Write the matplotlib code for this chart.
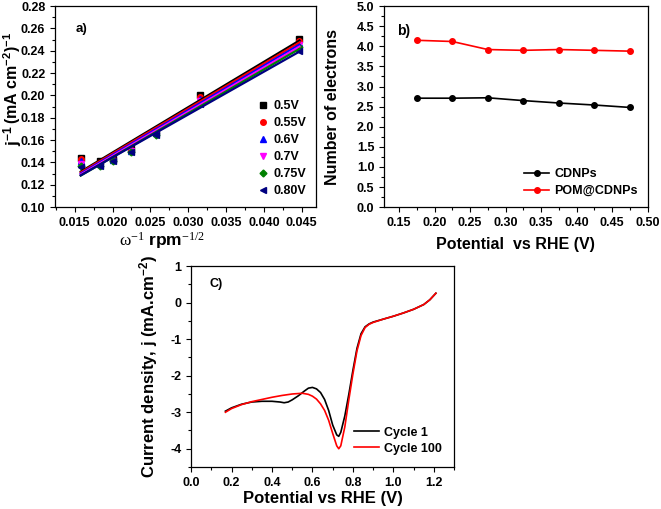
import numpy as np
import matplotlib
matplotlib.use("Agg")
import matplotlib.pyplot as plt
from matplotlib.ticker import MultipleLocator

plt.rcParams['font.family'] = ['Liberation Sans', 'DejaVu Sans']
plt.rcParams['font.weight'] = 'bold'
plt.rcParams['mathtext.fontset'] = 'custom'
plt.rcParams['mathtext.rm'] = 'Liberation Sans:bold'
plt.rcParams['mathtext.it'] = 'Liberation Sans:bold'
plt.rcParams['mathtext.bf'] = 'Liberation Sans:bold'

# ---- Panel a data ----
omega_inv = [0.0158, 0.0183, 0.0200, 0.0224, 0.0258, 0.0316, 0.0447]
a_labels = ['0.5V', '0.55V', '0.6V', '0.7V', '0.75V', '0.80V']
j_05 = [0.144, 0.141, 0.143, 0.152, 0.168, 0.200, 0.251]
j_055 = [0.143, 0.140, 0.142, 0.151, 0.167, 0.199, 0.249]
j_06 = [0.141, 0.139, 0.142, 0.150, 0.166, 0.197, 0.247]
j_07 = [0.139, 0.138, 0.141, 0.150, 0.166, 0.195, 0.245]
j_075 = [0.137, 0.137, 0.141, 0.149, 0.165, 0.193, 0.243]
j_080 = [0.136, 0.137, 0.141, 0.149, 0.165, 0.192, 0.240]

# ---- Panel b data ----
potential_b = [0.175, 0.225, 0.275, 0.325, 0.375, 0.425, 0.475]
n_cdnps = [2.71, 2.71, 2.72, 2.65, 2.59, 2.54, 2.48]
n_pom = [4.15, 4.12, 3.92, 3.90, 3.92, 3.90, 3.88]

# ---- Panel c data ----
E_c1 = [0.17, 0.20, 0.25, 0.30, 0.35, 0.40, 0.44, 0.46, 0.48, 0.50, 0.53, 0.56, 0.58, 0.60,
        0.62, 0.64, 0.66, 0.68, 0.70, 0.72, 0.73, 0.74, 0.76, 0.78, 0.80, 0.82, 0.84, 0.86,
        0.88, 0.90, 0.95, 1.00, 1.05, 1.10, 1.15, 1.18, 1.21]
j_c1 = [-2.97, -2.88, -2.78, -2.72, -2.70, -2.70, -2.72, -2.74, -2.72, -2.66, -2.55, -2.42, -2.34, -2.32,
        -2.36, -2.46, -2.65, -2.95, -3.35, -3.62, -3.66, -3.55, -3.10, -2.50, -1.85, -1.25, -0.85, -0.66,
        -0.58, -0.53, -0.45, -0.37, -0.28, -0.18, -0.05, 0.08, 0.26]
E_c100 = [0.17, 0.20, 0.25, 0.30, 0.35, 0.40, 0.45, 0.50, 0.55, 0.58, 0.60, 0.62, 0.64, 0.66,
          0.68, 0.70, 0.72, 0.73, 0.74, 0.76, 0.78, 0.80, 0.82, 0.84, 0.86, 0.88, 0.90, 0.95,
          1.00, 1.05, 1.10, 1.15, 1.18, 1.21]
j_c100 = [-3.00, -2.90, -2.79, -2.71, -2.65, -2.59, -2.54, -2.50, -2.48, -2.51, -2.56, -2.64, -2.77, -2.95,
          -3.22, -3.58, -3.92, -4.00, -3.92, -3.40, -2.65, -1.95, -1.32, -0.90, -0.68, -0.59, -0.54, -0.45,
          -0.37, -0.28, -0.18, -0.05, 0.08, 0.26]

fig = plt.figure(figsize=(6.61, 5.09), dpi=100)
TICK = 9


def style(ax):
    ax.tick_params(which='both', direction='out', labelsize=TICK, width=0.8)
    ax.tick_params(which='major', length=3.5)
    ax.tick_params(which='minor', length=2)
    for s in ax.spines.values():
        s.set_linewidth(0.9)
    for lab in ax.get_xticklabels() + ax.get_yticklabels():
        lab.set_fontweight('bold')


# Panel a
axa = fig.add_axes([0.0832, 0.593, 0.395, 0.395])
colors = ['black', 'red', 'blue', 'magenta', 'green', 'navy']
markers = ['s', 'o', '^', 'v', 'D', '<']
msizes = [4, 4, 4, 4, 3.5, 4]
series = [j_05, j_055, j_06, j_07, j_075, j_080]
x = np.array(omega_inv)
for ys, c, m, ms, lab in zip(series, colors, markers, msizes, a_labels):
    axa.plot(x, ys, linestyle='none', marker=m, color=c, ms=ms, label=lab)
for ys, c in zip(series, colors):
    p = np.polyfit(x, ys, 1)
    axa.plot([x[0], x[-1]], np.polyval(p, [x[0], x[-1]]), color=c, lw=1.6)
axa.set_xlim(0.0124, 0.0469)
axa.set_ylim(0.10, 0.28)
axa.xaxis.set_minor_locator(MultipleLocator(0.0025))
axa.yaxis.set_minor_locator(MultipleLocator(0.01))
axa.set_xticks([0.015, 0.02, 0.025, 0.03, 0.035, 0.04, 0.045])
axa.set_xticklabels(['0.015', '0.020', '0.025', '0.030', '0.035', '0.040', '0.045'])
axa.set_yticks(np.round(np.arange(0.10, 0.281, 0.02), 2))
axa.set_yticklabels(['%.2f' % v for v in np.arange(0.10, 0.281, 0.02)])
style(axa)
axa.set_xlabel(r'$\mathregular{\omega^{-1}}$ $\mathbf{rpm}$$\mathregular{^{-1/2}}$', fontsize=12.5,
               family='Liberation Serif', fontweight='normal')
axa.xaxis.set_label_coords(0.41, -0.115)

# y label of panel a: large "j^-1" followed by "(mA cm^-2)^-1" on the same baseline
ylab1 = fig.text(18 / 661, 1 - 146 / 509, r'j$^{-1}$', rotation=90, rotation_mode='anchor',
                 ha='left', va='baseline', fontsize=12.5, fontweight='bold')
fig.canvas.draw()
bb = ylab1.get_window_extent(renderer=fig.canvas.get_renderer())
y_next = fig.transFigure.inverted().transform((0, bb.y1))[1]
fig.text(18 / 661, y_next + 0.002, r'(mA cm$^{-2}$)$^{-1}$', rotation=90, rotation_mode='anchor',
         ha='left', va='baseline', fontsize=11.5, fontweight='bold')

axa.text(0.078, 0.87, 'a)', transform=axa.transAxes, fontsize=9.5, fontweight='bold')
leg = axa.legend(loc='lower right', frameon=False, fontsize=9, handletextpad=0.2,
                 borderaxespad=0.4, labelspacing=0.4, handlelength=1.2)
for t in leg.get_texts():
    t.set_fontweight('bold')

# Panel b
axb = fig.add_axes([0.581, 0.593, 0.399, 0.395])
axb.plot(potential_b, n_cdnps, color='black', marker='o', ms=4, lw=1.2, label='CDNPs')
axb.plot(potential_b, n_pom, color='red', marker='o', ms=4, lw=1.2, label='POM@CDNPs')
axb.set_xlim(0.129, 0.50)
axb.set_ylim(0, 5)
axb.xaxis.set_minor_locator(MultipleLocator(0.025))
axb.yaxis.set_minor_locator(MultipleLocator(0.25))
axb.set_xticks(np.round(np.arange(0.15, 0.501, 0.05), 2))
axb.set_xticklabels(['%.2f' % v for v in np.arange(0.15, 0.501, 0.05)])
axb.set_yticks(np.round(np.arange(0, 5.01, 0.5), 1))
axb.set_yticklabels(['%.1f' % v for v in np.arange(0, 5.01, 0.5)])
style(axb)
axb.set_xlabel('Potential  vs RHE (V)', fontsize=11.5, fontweight='bold')
axb.xaxis.set_label_coords(0.5, -0.15)
axb.set_ylabel('Number of electrons', fontsize=11.5, fontweight='bold')
axb.yaxis.set_label_coords(-0.167, 0.5)
axb.text(0.05, 0.855, 'b)', transform=axb.transAxes, fontsize=10, fontweight='bold')
leg = axb.legend(loc='lower right', frameon=False, fontsize=9, handletextpad=0.4,
                 borderaxespad=0.4, labelspacing=0.4, handlelength=2.0)
for t in leg.get_texts():
    t.set_fontweight('bold')

# Panel c
axc = fig.add_axes([0.289, 0.0825, 0.398, 0.3945])
axc.plot(E_c1, j_c1, color='black', lw=1.2, label='Cycle 1')
axc.plot(E_c100, j_c100, color='red', lw=1.2, label='Cycle 100')
axc.set_xlim(0.0, 1.3)
axc.set_ylim(-4.5, 1.0)
axc.xaxis.set_minor_locator(MultipleLocator(0.1))
axc.yaxis.set_minor_locator(MultipleLocator(0.5))
axc.set_xticks(np.round(np.arange(0, 1.21, 0.2), 1))
axc.set_xticklabels(['%.1f' % v for v in np.arange(0, 1.21, 0.2)])
axc.set_yticks([-4, -3, -2, -1, 0, 1])
axc.set_yticklabels(['-4', '-3', '-2', '-1', '0', '1'])
style(axc)
axc.set_xlabel('Potential vs RHE (V)', fontsize=12, fontweight='bold')
axc.xaxis.set_label_coords(0.5, -0.118)
axc.set_ylabel(r'Current density, j (mA.cm$^{-2}$)', fontsize=12, fontweight='bold')
axc.yaxis.set_label_coords(-0.118, 0.5)
axc.text(0.07, 0.895, 'C)', transform=axc.transAxes, fontsize=9, fontweight='bold')
leg = axc.legend(loc='lower right', frameon=False, fontsize=9, handletextpad=0.4,
                 borderaxespad=0.6, labelspacing=0.3, handlelength=2.0)
for t in leg.get_texts():
    t.set_fontweight('bold')

fig.savefig('out.png', dpi=100)
